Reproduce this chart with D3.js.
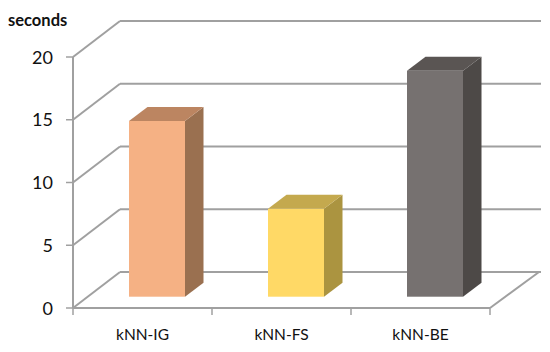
<!DOCTYPE html>
<html><head><meta charset="utf-8">
<script src="https://cdn.jsdelivr.net/npm/d3@7"></script>
<style>html,body{margin:0;padding:0;background:#fff}svg{display:block}text{font-family:Lato,"Open Sans",sans-serif;fill:#111}</style>
</head><body><svg id="c" width="550" height="352"></svg>
<script>
const categories = ["kNN-IG","kNN-FS","kNN-BE"];
const values = [14,7,18];
const yTicks = [0,5,10,15,20];
const unitLabel = "seconds";
const frontColors = ["#F5B184","#FFD966","#767170"];
const sideColors = ["#9A7050","#AB9440","#4D4947"];
const topColors = ["#BC8561","#C4A94E","#5A5553"];

const svg = d3.select("#c");
const x = d3.scaleBand().domain(categories).range([73,490]);
const y = d3.scaleLinear().domain([0,20]).range([308,57]);
const wallDx = 47, wallDy = -36, wallEndDx = 49;
const barW = 56, barShift = 14.5, baseDy = -11.3, barDx = 18.5, barDy = -14;
const grid = "#A0A0A0";
const line = (x1,y1,x2,y2,w=2) => svg.append("line").attr("x1",x1).attr("y1",y1).attr("x2",x2).attr("y2",y2).attr("stroke",grid).attr("stroke-width",w);

yTicks.forEach(t => {
  const yy = y(t);
  line(x.range()[0],yy,x.range()[0]+wallDx,yy+wallDy);
  line(x.range()[0]+wallDx,yy+wallDy,x.range()[1]+wallDx+wallEndDx-47+2,yy+wallDy);
  line(x.range()[0]-7,yy,x.range()[0],yy,1.5);
  svg.append("text").attr("x",53).attr("y",yy+6.5).attr("text-anchor","end").attr("font-size",18).text(t);
});
line(x.range()[0],y(0),x.range()[0],y(20));
line(x.range()[0],y(0),x.range()[1],y(0));
line(x.range()[1],y(0),x.range()[1]+wallEndDx,y(0)+wallDy);
const edges = categories.map(c=>x(c)).concat([x.range()[1]]);
edges.forEach(e => line(e,y(0),e,y(0)+7,1.5));

categories.forEach((c,i) => {
  const l = x(c)+x.bandwidth()/2+barShift-barW/2, r = l+barW;
  const b = y(0)+baseDy, t = y(values[i])+baseDy;
  const poly = (pts,fill) => svg.append("polygon").attr("points",pts.map(p=>p.join(",")).join(" ")).attr("fill",fill);
  poly([[r,b],[r,t],[r+barDx,t+barDy],[r+barDx,b+barDy]],sideColors[i]);
  poly([[l,t],[r,t],[r+barDx,t+barDy],[l+barDx,t+barDy]],topColors[i]);
  svg.append("rect").attr("x",l).attr("y",t).attr("width",barW).attr("height",b-t).attr("fill",frontColors[i]);
  svg.append("text").attr("x",x(c)+x.bandwidth()/2).attr("y",340).attr("text-anchor","middle").attr("font-size",15.5).text(c);
});
svg.append("text").attr("x",8).attr("y",26).attr("font-size",16.5).attr("font-weight",700).text(unitLabel);
</script></body></html>
